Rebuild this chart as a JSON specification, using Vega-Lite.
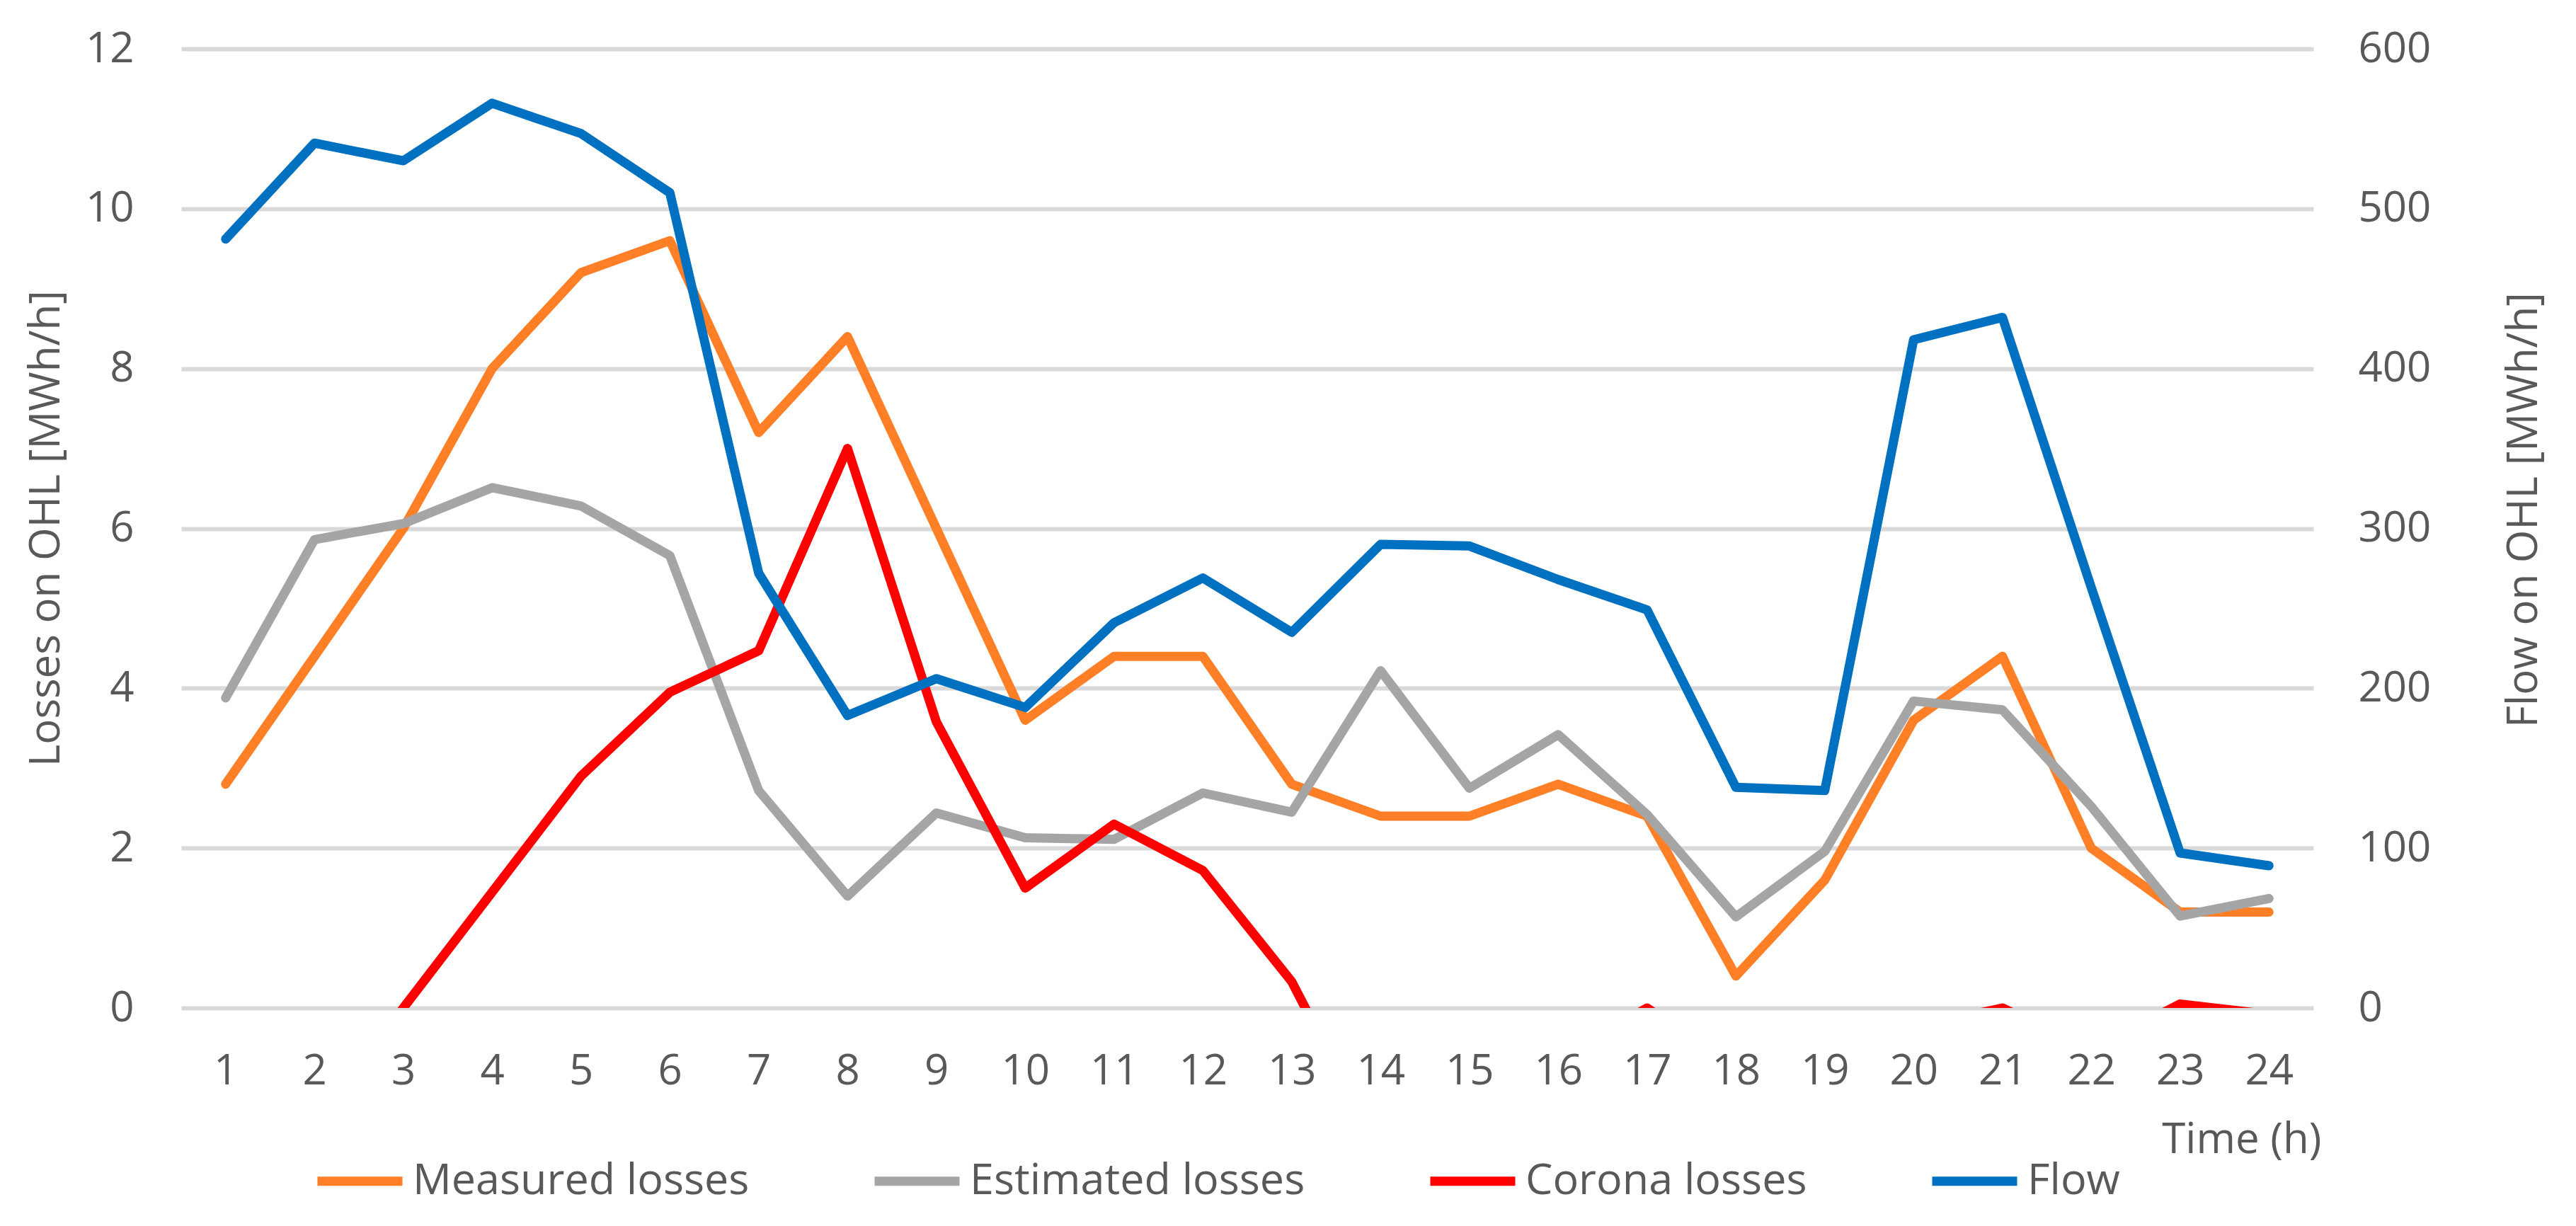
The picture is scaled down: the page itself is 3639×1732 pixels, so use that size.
{
  "$schema": "https://vega.github.io/schema/vega-lite/v6.json",
  "width": 3012,
  "height": 1355,
  "autosize": {"type": "none"},
  "padding": {"left": 256, "top": 69, "right": 371, "bottom": 308},
  "background": "white",
  "config": {
    "view": {"stroke": null},
    "font": "Open Sans",
    "axis": {
      "labelFont": "Open Sans",
      "labelFontSize": 60,
      "labelColor": "#595959",
      "titleFont": "Open Sans",
      "titleFontSize": 60,
      "titleColor": "#595959",
      "titleFontWeight": "normal",
      "domain": false,
      "ticks": false,
      "labelOverlap": false
    }
  },
  "data": {
    "values": [
      {"hour": 1, "measured": 2.8, "estimated": 3.88, "corona": -1.08, "flow": 481},
      {"hour": 2, "measured": 4.4, "estimated": 5.86, "corona": -1.46, "flow": 541},
      {"hour": 3, "measured": 6.0, "estimated": 6.06, "corona": 0.0, "flow": 530},
      {"hour": 4, "measured": 8.0, "estimated": 6.51, "corona": 1.45, "flow": 566},
      {"hour": 5, "measured": 9.2, "estimated": 6.28, "corona": 2.9, "flow": 547},
      {"hour": 6, "measured": 9.6, "estimated": 5.66, "corona": 3.95, "flow": 510},
      {"hour": 7, "measured": 7.2, "estimated": 2.72, "corona": 4.47, "flow": 272},
      {"hour": 8, "measured": 8.4, "estimated": 1.4, "corona": 7.0, "flow": 183},
      {"hour": 9, "measured": 6.0, "estimated": 2.44, "corona": 3.58, "flow": 206},
      {"hour": 10, "measured": 3.6, "estimated": 2.13, "corona": 1.5, "flow": 188},
      {"hour": 11, "measured": 4.4, "estimated": 2.11, "corona": 2.3, "flow": 241},
      {"hour": 12, "measured": 4.4, "estimated": 2.69, "corona": 1.72, "flow": 269},
      {"hour": 13, "measured": 2.8, "estimated": 2.45, "corona": 0.33, "flow": 235},
      {"hour": 14, "measured": 2.4, "estimated": 4.22, "corona": -1.82, "flow": 290},
      {"hour": 15, "measured": 2.4, "estimated": 2.75, "corona": -0.35, "flow": 289},
      {"hour": 16, "measured": 2.8, "estimated": 3.42, "corona": -0.62, "flow": 268},
      {"hour": 17, "measured": 2.4, "estimated": 2.42, "corona": 0.0, "flow": 249},
      {"hour": 18, "measured": 0.4, "estimated": 1.14, "corona": -0.74, "flow": 138},
      {"hour": 19, "measured": 1.6, "estimated": 1.96, "corona": -0.36, "flow": 136},
      {"hour": 20, "measured": 3.6, "estimated": 3.84, "corona": -0.24, "flow": 418},
      {"hour": 21, "measured": 4.4, "estimated": 3.73, "corona": 0.0, "flow": 432},
      {"hour": 22, "measured": 2.0, "estimated": 2.52, "corona": -0.52, "flow": 263},
      {"hour": 23, "measured": 1.2, "estimated": 1.15, "corona": 0.05, "flow": 97},
      {"hour": 24, "measured": 1.2, "estimated": 1.37, "corona": -0.08, "flow": 89}
    ]
  },
  "encoding": {
    "x": {
      "field": "hour",
      "type": "quantitative",
      "scale": {"domain": [0.5, 24.5], "nice": false, "zero": false},
      "axis": {
        "values": [1,2,3,4,5,6,7,8,9,10,11,12,13,14,15,16,17,18,19,20,21,22,23,24],
        "format": "d",
        "grid": false,
        "labelFlush": false,
        "labelPadding": 60,
        "title": "Time (h)",
        "titleX": 3023,
        "titleY": 186,
        "titleAlign": "right",
        "titleBaseline": "middle"
      }
    }
  },
  "layer": [
    {
      "layer": [
        {
          "mark": {"type": "line", "strokeWidth": 13, "clip": true, "strokeJoin": "round", "strokeCap": "round"},
          "encoding": {
            "y": {
              "field": "measured",
              "type": "quantitative",
              "scale": {"domain": [0, 12], "nice": false},
              "axis": {
                "title": "Losses on OHL [MWh/h]",
                "values": [0, 2, 4, 6, 8, 10, 12],
                "format": "d",
                "grid": true,
                "gridColor": "#D9D9D9",
                "gridWidth": 6,
                "labelPadding": 67,
                "titleX": -191,
                "titleY": 677,
                "titleAngle": 270,
                "titleAlign": "center",
                "titleBaseline": "middle"
              }
            },
            "color": {
              "datum": "Measured losses",
              "scale": {
                "domain": ["Measured losses", "Estimated losses", "Corona losses", "Flow"],
                "range": ["#FF7F27", "#A5A5A5", "#FF0000", "#0070C0"]
              },
              "legend": {
                "orient": "none",
                "legendX": 186,
                "legendY": 1533,
                "direction": "horizontal",
                "title": null,
                "symbolType": "stroke",
                "symbolSize": 14400,
                "symbolStrokeWidth": 13,
                "labelFont": "Open Sans",
                "labelFontSize": 61,
                "labelColor": "#595959",
                "labelOffset": 8,
                "labelLimit": 1000,
                "columnPadding": 150
              }
            }
          }
        },
        {
          "mark": {"type": "line", "strokeWidth": 13, "clip": true, "strokeJoin": "round", "strokeCap": "round"},
          "encoding": {
            "y": {"field": "estimated", "type": "quantitative"},
            "color": {"datum": "Estimated losses"}
          }
        },
        {
          "mark": {"type": "line", "strokeWidth": 13, "clip": true, "strokeJoin": "round", "strokeCap": "round"},
          "encoding": {
            "y": {"field": "corona", "type": "quantitative"},
            "color": {"datum": "Corona losses"}
          }
        }
      ]
    },
    {
      "mark": {"type": "line", "strokeWidth": 13, "clip": true, "strokeJoin": "round", "strokeCap": "round"},
      "encoding": {
        "y": {
          "field": "flow",
          "type": "quantitative",
          "scale": {"domain": [0, 600], "nice": false},
          "axis": {
            "orient": "right",
            "title": "Flow on OHL [MWh/h]",
            "values": [0, 100, 200, 300, 400, 500, 600],
            "format": "d",
            "grid": false,
            "labelPadding": 63,
            "titleX": 297,
            "titleY": 651,
            "titleAngle": 270,
            "titleAlign": "center",
            "titleBaseline": "middle"
          }
        },
        "color": {"datum": "Flow"}
      }
    }
  ],
  "resolve": {"scale": {"y": "independent"}}
}
